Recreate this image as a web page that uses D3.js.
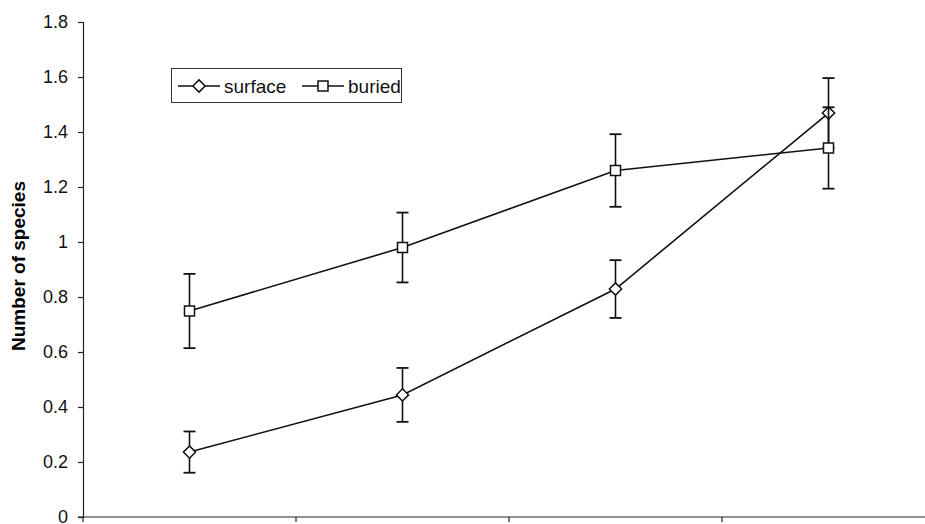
<!DOCTYPE html>
<html>
<head>
	<title>species</title>
	<script src="https://cdnjs.cloudflare.com/ajax/libs/d3/7.8.5/d3.min.js"></script>
	<style>
		body { margin:0; background:#fff; }
		text { font-family: "Liberation Sans", Arial, sans-serif; }
	</style>
</head>
<body>
	<svg width="925" height="524"></svg>
	<script type="text/javascript">

		var categories = ["1", "2", "3", "4"];
		var surface = [0.236, 0.444, 0.829, 1.469];
		var surfaceErr = [0.075, 0.098, 0.105, 0.127];
		var buried = [0.749, 0.980, 1.260, 1.342];
		var buriedErr = [0.135, 0.127, 0.132, 0.148];
		var yTicks = [0, 0.2, 0.4, 0.6, 0.8, 1, 1.2, 1.4, 1.6, 1.8];

		var svg = d3.select("svg");
		var plotLeft = 83, plotRight = 935, plotTop = 22, plotBottom = 517;

		var x = d3.scaleBand().domain(categories).range([plotLeft, plotRight]);
		var y = d3.scaleLinear().domain([0, 1.8]).range([plotBottom, plotTop]);

		// y axis
		var yAxis = svg.append("g")
			.attr("transform", "translate(" + plotLeft + ",0)")
			.call(d3.axisLeft(y).tickValues(yTicks).tickSize(5).tickPadding(10)
				.tickFormat(function(d) {return d3.format("")(d)}));
		yAxis.selectAll("text").style("font-size", "18px").attr("fill", "#111");

		// x axis, ticks on the category boundaries
		var bounds = categories.map(function(c) {return x(c)}).concat([plotRight]);
		var xAxis = svg.append("g").attr("transform", "translate(0," + plotBottom + ")");
		xAxis.append("line").attr("x1", plotLeft - 5).attr("x2", 925)
			.attr("stroke", "#222").attr("stroke-width", 1.2);
		xAxis.selectAll("line.tick").data(bounds).enter().append("line")
			.attr("class", "tick")
			.attr("x1", function(d) {return d}).attr("x2", function(d) {return d})
			.attr("y1", 0).attr("y2", 5)
			.attr("stroke", "#222").attr("stroke-width", 1.2);

		svg.selectAll(".domain, .tick line").attr("stroke", "#222").attr("stroke-width", 1.2);

		svg.append("text")
			.attr("transform", "translate(25,266) rotate(-90)")
			.attr("text-anchor", "middle")
			.style("font-size", "19px").style("font-weight", "bold")
			.text("Number of species");

		var cx = function(i) {return x(categories[i]) + x.bandwidth() / 2};

		// square-ish diamond like the spreadsheet marker
		var diamond = {draw: function(ctx, size) {
			var r = Math.sqrt(size) / 2;
			ctx.moveTo(0, -r); ctx.lineTo(r, 0); ctx.lineTo(0, r); ctx.lineTo(-r, 0); ctx.closePath();
		}};

		var series = [
			{name: "surface", values: surface, err: surfaceErr, shape: diamond, size: 150},
			{name: "buried", values: buried, err: buriedErr, shape: d3.symbolSquare, size: 100}
		];

		var line = d3.line().x(function(d, i) {return cx(i)}).y(function(d) {return y(d)});

		series.forEach(function(s) {
			var g = svg.append("g");
			// error bars
			s.values.forEach(function(v, i) {
				var hi = y(v + s.err[i]), lo = y(v - s.err[i]), px = cx(i);
				g.append("line").attr("x1", px).attr("x2", px).attr("y1", hi).attr("y2", lo)
					.attr("stroke", "#111").attr("stroke-width", 1.6);
				[hi, lo].forEach(function(yy) {
					g.append("line").attr("x1", px - 6).attr("x2", px + 6).attr("y1", yy).attr("y2", yy)
						.attr("stroke", "#111").attr("stroke-width", 1.8);
				});
			});
			g.append("path").datum(s.values).attr("d", line)
				.attr("fill", "none").attr("stroke", "#111").attr("stroke-width", 1.6);
			g.selectAll("path.m").data(s.values).enter().append("path")
				.attr("class", "m")
				.attr("transform", function(d, i) {return "translate(" + cx(i) + "," + y(d) + ")"})
				.attr("d", d3.symbol().type(s.shape).size(s.size))
				.attr("fill", "#fff").attr("stroke", "#111").attr("stroke-width", 1.5);
		});

		// legend
		var lg = svg.append("g");
		lg.append("rect").attr("x", 171.5).attr("y", 68.5).attr("width", 230).attr("height", 34)
			.attr("fill", "#fff").attr("stroke", "#333").attr("stroke-width", 1);
		var items = [{x: 178, s: series[0]}, {x: 302, s: series[1]}];
		items.forEach(function(it) {
			lg.append("line").attr("x1", it.x).attr("x2", it.x + 42).attr("y1", 86).attr("y2", 86)
				.attr("stroke", "#111").attr("stroke-width", 1.6);
			lg.append("path").attr("transform", "translate(" + (it.x + 21) + ",86)")
				.attr("d", d3.symbol().type(it.s.shape).size(it.s.size))
				.attr("fill", "#fff").attr("stroke", "#111").attr("stroke-width", 1.5);
			lg.append("text").attr("x", it.x + 46).attr("y", 92.5)
				.style("font-size", "19px").attr("fill", "#111").text(it.s.name);
		});
	</script>
</body>
</html>
